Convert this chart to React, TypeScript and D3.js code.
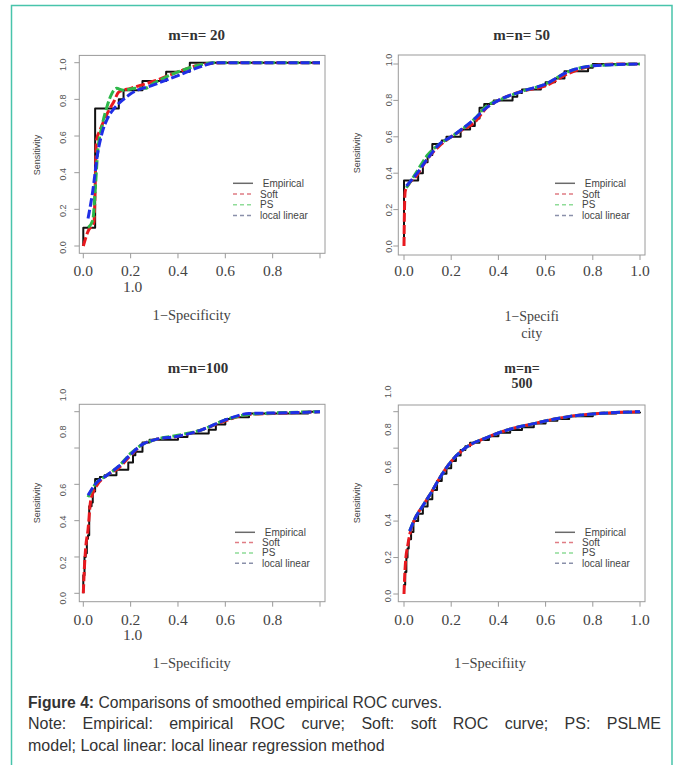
import React, { useRef, useEffect } from 'react';
import * as d3 from 'd3';

type Pt = [number, number];

// --- Data (fpr, tpr) ---
const emp20: Pt[] = [[0, 0], [0, 0.1], [0.05, 0.75], [0.15, 0.8], [0.17, 0.85], [0.25, 0.9], [0.35, 0.95], [0.45, 1], [1, 1]];
const soft20: Pt[] = [[0, 0], [0.02, 0.08], [0.045, 0.13], [0.056, 0.58], [0.07, 0.63], [0.1, 0.72], [0.13, 0.79], [0.15, 0.84], [0.2, 0.86], [0.3, 0.9], [0.4, 0.95], [0.5, 0.99], [0.6, 1], [1, 1]];
const ps20: Pt[] = [[0.02, 0.1], [0.04, 0.14], [0.05, 0.3], [0.06, 0.5], [0.08, 0.66], [0.1, 0.76], [0.12, 0.83], [0.14, 0.86], [0.17, 0.85], [0.22, 0.86], [0.26, 0.86], [0.3, 0.89], [0.4, 0.95], [0.5, 0.99], [0.55, 1], [1, 1]];
const ll20: Pt[] = [[0.02, 0.15], [0.04, 0.3], [0.06, 0.5], [0.08, 0.62], [0.1, 0.69], [0.13, 0.75], [0.17, 0.8], [0.2, 0.83], [0.3, 0.88], [0.4, 0.93], [0.5, 0.98], [0.56, 1], [1, 1]];

const emp50: Pt[] = [[0, 0], [0, 0.36], [0.06, 0.4], [0.08, 0.46], [0.1, 0.5], [0.12, 0.56], [0.16, 0.58], [0.18, 0.6], [0.24, 0.64], [0.28, 0.66], [0.3, 0.7], [0.32, 0.76], [0.34, 0.78], [0.38, 0.8], [0.46, 0.82], [0.48, 0.84], [0.5, 0.86], [0.58, 0.88], [0.6, 0.9], [0.64, 0.92], [0.68, 0.96], [0.78, 0.98], [0.8, 1], [1, 1]];
const soft50: Pt[] = [[0, 0], [0.002, 0.2], [0.005, 0.3], [0.02, 0.34], [0.05, 0.38], [0.1, 0.48], [0.15, 0.55], [0.2, 0.6], [0.25, 0.64], [0.3, 0.68], [0.35, 0.76], [0.4, 0.8], [0.5, 0.85], [0.6, 0.88], [0.7, 0.95], [0.8, 0.99], [0.9, 1], [1, 1]];
const ps50: Pt[] = [[0.01, 0.32], [0.05, 0.4], [0.1, 0.5], [0.15, 0.56], [0.2, 0.6], [0.3, 0.7], [0.35, 0.77], [0.4, 0.8], [0.5, 0.85], [0.6, 0.89], [0.7, 0.96], [0.8, 0.99], [1, 1]];
const ll50: Pt[] = [[0.01, 0.33], [0.05, 0.39], [0.1, 0.48], [0.15, 0.56], [0.2, 0.6], [0.3, 0.7], [0.35, 0.76], [0.4, 0.8], [0.5, 0.85], [0.6, 0.89], [0.7, 0.96], [0.8, 0.99], [1, 1]];

const emp100: Pt[] = [[0, 0], [0, 0.1], [0.005, 0.2], [0.01, 0.22], [0.015, 0.3], [0.02, 0.32], [0.025, 0.48], [0.035, 0.5], [0.04, 0.56], [0.05, 0.63], [0.07, 0.64], [0.09, 0.65], [0.14, 0.68], [0.19, 0.72], [0.21, 0.76], [0.22, 0.78], [0.25, 0.83], [0.28, 0.845], [0.4, 0.86], [0.44, 0.88], [0.53, 0.9], [0.56, 0.93], [0.6, 0.96], [0.63, 0.97], [0.7, 0.99], [0.95, 1], [1, 1]];
const soft100: Pt[] = [[0, 0], [0.005, 0.15], [0.01, 0.25], [0.02, 0.35], [0.03, 0.5], [0.04, 0.55], [0.06, 0.6], [0.1, 0.65], [0.15, 0.69], [0.2, 0.76], [0.25, 0.82], [0.3, 0.845], [0.4, 0.865], [0.5, 0.9], [0.6, 0.95], [0.7, 0.985], [0.8, 0.99], [0.9, 0.995], [1, 1]];
const ps100: Pt[] = [[0.02, 0.53], [0.05, 0.6], [0.1, 0.65], [0.15, 0.7], [0.2, 0.77], [0.25, 0.82], [0.3, 0.845], [0.4, 0.87], [0.5, 0.9], [0.6, 0.955], [0.7, 0.985], [1, 1]];
const ll100: Pt[] = [[0.02, 0.54], [0.05, 0.6], [0.1, 0.65], [0.15, 0.7], [0.2, 0.765], [0.25, 0.82], [0.3, 0.845], [0.4, 0.865], [0.5, 0.9], [0.6, 0.955], [0.7, 0.99], [0.9, 0.995], [1, 1]];

const emp500: Pt[] = [[0, 0], [0, 0.05], [0.005, 0.12], [0.01, 0.2], [0.015, 0.25], [0.02, 0.3], [0.03, 0.34], [0.04, 0.4], [0.06, 0.44], [0.08, 0.48], [0.1, 0.52], [0.12, 0.57], [0.14, 0.62], [0.16, 0.66], [0.18, 0.69], [0.2, 0.73], [0.22, 0.76], [0.24, 0.79], [0.26, 0.81], [0.28, 0.83], [0.32, 0.845], [0.36, 0.865], [0.4, 0.885], [0.45, 0.9], [0.5, 0.915], [0.55, 0.935], [0.6, 0.95], [0.65, 0.96], [0.7, 0.975], [0.8, 0.99], [0.9, 0.995], [1, 1]];
const soft500: Pt[] = [[0, 0], [0.003, 0.1], [0.008, 0.2], [0.015, 0.26], [0.025, 0.33], [0.047, 0.415], [0.078, 0.48], [0.117, 0.56], [0.146, 0.625], [0.2, 0.727], [0.27, 0.81], [0.343, 0.854], [0.414, 0.89], [0.555, 0.936], [0.696, 0.973], [0.837, 0.991], [1, 1]];
const ps500: Pt[] = [[0.024, 0.345], [0.047, 0.415], [0.078, 0.48], [0.117, 0.56], [0.146, 0.625], [0.2, 0.727], [0.27, 0.81], [0.343, 0.854], [0.414, 0.89], [0.555, 0.936], [0.696, 0.973], [0.837, 0.991], [1, 1]];
const ll500: Pt[] = [[0.024, 0.345], [0.047, 0.415], [0.078, 0.48], [0.117, 0.56], [0.146, 0.625], [0.2, 0.727], [0.27, 0.81], [0.343, 0.854], [0.414, 0.89], [0.555, 0.936], [0.696, 0.973], [0.837, 0.991], [1, 1]];

const seriesByPanel: Pt[][][] = [
  [emp20, soft20, ps20, ll20],
  [emp50, soft50, ps50, ll50],
  [emp100, soft100, ps100, ll100],
  [emp500, soft500, ps500, ll500],
];

const titles = [['m=n= 20'], ['m=n= 50'], ['m=n=100'], ['m=n=', '500']];
const xTitles = [['1\u2212Specificity'], ['1\u2212Specifi', 'city'], ['1\u2212Specificity'], ['1\u2212Specifiity']];
const yTitle = 'Sensitivity';
const tickValues = [0, 0.2, 0.4, 0.6, 0.8, 1.0];
const legendLabels = [' Empirical', 'Soft', 'PS', 'local linear'];
const captionBold = 'Figure 4:';
const captionRest = ' Comparisons of smoothed empirical ROC curves.';
const captionNote = 'Note: Empirical: empirical ROC curve; Soft: soft ROC curve; PS: PSLME';
const captionLast = 'model; Local linear: local linear regression method';

// --- Styles ---
const curveColors = ['#111111', '#e8191f', '#2db84a', '#1f2ee6'];
const legendColors = ['#6a6a6a', '#e07c84', '#8fdc98', '#8a90aa'];

// --- Layout of the four panels (pixels) ---
const LAYOUT = [
  { x0: 83.3, x1: 320, y0: 246, y1: 62.7, box: [79.3, 325, 55.4, 253.3], titleX: 196.7, titleY: [40], tickY: 276, wrapLast: true, xtX: 191.7, xtY: [320], ytX: 36.7, ytY: 155, ylX: 62.7, ylShift: [1.5, 1.5, 1.5, 1.5, 1.5, 2], legX: 233, legY: 183.3, legStep: 10.7 },
  { x0: 404, x1: 640, y0: 246, y1: 64, box: [398.3, 645, 55, 255], titleX: 521.7, titleY: [40], tickY: 276, wrapLast: false, xtX: 531.7, xtY: [321, 337.5], ytX: 356.7, ytY: 153, ylX: 389, ylShift: [0.5, 0.5, 0, 0, -0.5, -4], legX: 555, legY: 183.3, legStep: 10.7 },
  { x0: 83.3, x1: 320, y0: 593.3, y1: 411.7, box: [79.3, 325, 404.3, 601.7], titleX: 198, titleY: [373.3], tickY: 624.6, wrapLast: true, xtX: 191.7, xtY: [668], ytX: 36.7, ytY: 503, ylX: 62.7, ylShift: [5, 5.7, 1, 5.6, -16.3, -16.7], legX: 235, legY: 532.3, legStep: 10.3 },
  { x0: 404, x1: 640, y0: 594, y1: 411.7, box: [398.3, 645, 405, 601.7], titleX: 522, titleY: [372.5, 387.5], tickY: 624.6, wrapLast: false, xtX: 490, xtY: [668], ytX: 356.7, ytY: 503, ylX: 387.7, ylShift: [2, -0.2, -1, -17.6, -18.7, -20], legX: 555, legY: 532.3, legStep: 10.3 },
];

const W = 675;
const H = 765;

const App = () => {
  const svgRef = useRef<SVGSVGElement>(null);

  useEffect(() => {
    const svg = d3.select(svgRef.current).html('');

    svg.append('rect').attr('width', W).attr('height', H).attr('fill', '#ffffff');

    // Frame
    svg.append('path')
      .attr('d', 'M11.5,765 V5.5 H672 V765')
      .attr('fill', 'none')
      .attr('stroke', '#48c4ab')
      .attr('stroke-width', 1.5);

    LAYOUT.forEach((L, pi) => {
      const g = svg.append('g');
      const x = d3.scaleLinear().domain([0, 1]).range([L.x0, L.x1]);
      const y = d3.scaleLinear().domain([0, 1]).range([L.y0, L.y1]);
      const [bl, br, bt, bb] = L.box;

      // plot box
      g.append('rect')
        .attr('x', bl).attr('y', bt)
        .attr('width', br - bl).attr('height', bb - bt)
        .attr('fill', 'none').attr('stroke', '#9a9a9a').attr('stroke-width', 1);

      // y ticks + rotated labels
      tickValues.forEach((t, i) => {
        g.append('line')
          .attr('x1', bl).attr('x2', bl - 5)
          .attr('y1', y(t)).attr('y2', y(t))
          .attr('stroke', '#9a9a9a');
        const ly = y(t) + L.ylShift[i];
        g.append('text')
          .attr('transform', `translate(${L.ylX},${ly}) rotate(-90)`)
          .attr('text-anchor', 'middle')
          .attr('dominant-baseline', 'central')
          .attr('font-family', 'Liberation Sans, Arial, sans-serif')
          .attr('font-size', 9)
          .attr('fill', '#555')
          .text(d3.format('.1f')(t));
      });

      // x ticks + labels
      tickValues.forEach((t, i) => {
        g.append('line')
          .attr('x1', x(t)).attr('x2', x(t))
          .attr('y1', bb).attr('y2', bb + 5)
          .attr('stroke', '#9a9a9a');
        const last = i === tickValues.length - 1;
        const lx = last && L.wrapLast ? x(0.2) + 2 : x(t);
        const lyy = last && L.wrapLast ? L.tickY + 15.5 : L.tickY;
        g.append('text')
          .attr('x', lx).attr('y', lyy)
          .attr('text-anchor', 'middle')
          .attr('font-family', 'Liberation Serif, Times New Roman, serif')
          .attr('font-size', 15.5)
          .attr('fill', '#444')
          .text(d3.format('.1f')(t));
      });

      // title
      titles[pi].forEach((s, i) => {
        g.append('text')
          .attr('x', L.titleX).attr('y', L.titleY[i])
          .attr('text-anchor', 'middle')
          .attr('font-family', 'Liberation Serif, Times New Roman, serif')
          .attr('font-weight', 'bold')
          .attr('font-size', titles[pi].length > 1 ? 14 : 15)
          .attr('fill', '#333')
          .text(s);
      });

      // x title
      xTitles[pi].forEach((s, i) => {
        g.append('text')
          .attr('x', L.xtX).attr('y', L.xtY[i])
          .attr('text-anchor', 'middle')
          .attr('font-family', 'Liberation Serif, Times New Roman, serif')
          .attr('font-size', xTitles[pi].length > 1 ? 14 : 14.5)
          .attr('fill', '#444')
          .text(s);
      });

      // y title
      g.append('text')
        .attr('transform', `translate(${L.ytX},${L.ytY}) rotate(-90)`)
        .attr('text-anchor', 'middle')
        .attr('dominant-baseline', 'central')
        .attr('font-family', 'Liberation Sans, Arial, sans-serif')
        .attr('font-size', 9)
        .attr('fill', '#444')
        .text(yTitle);

      // curves
      const stepLine = d3.line<Pt>().x(d => x(d[0])).y(d => y(d[1])).curve(d3.curveStepAfter);
      const smoothLine = d3.line<Pt>().x(d => x(d[0])).y(d => y(d[1])).curve(d3.curveMonotoneX);
      seriesByPanel[pi].forEach((data, si) => {
        g.append('path')
          .attr('d', si === 0 ? stepLine(data) : smoothLine(data))
          .attr('fill', 'none')
          .attr('stroke', curveColors[si])
          .attr('stroke-width', si === 0 ? 2 : 3)
          .attr('stroke-dasharray', si === 0 ? null : '9,3')
          .attr('stroke-linejoin', 'round');
      });

      // legend
      legendLabels.forEach((lab, li) => {
        const cy = L.legY + li * L.legStep;
        g.append('line')
          .attr('x1', L.legX).attr('x2', L.legX + 20)
          .attr('y1', cy).attr('y2', cy)
          .attr('stroke', legendColors[li])
          .attr('stroke-width', 1.5)
          .attr('stroke-dasharray', li === 0 ? null : '4,3');
        g.append('text')
          .attr('x', L.legX + 27).attr('y', cy + 3.5)
          .attr('font-family', 'Liberation Sans, Arial, sans-serif')
          .attr('font-size', 10)
          .attr('fill', '#444')
          .style('white-space', 'pre')
          .text(lab);
      });
    });

    // Caption
    const cap = svg.append('g')
      .attr('font-family', 'Liberation Sans, Arial, sans-serif')
      .attr('font-size', 16)
      .attr('fill', '#333');
    const t1 = cap.append('text').attr('x', 28).attr('y', 708).style('white-space', 'pre')
      .attr('textLength', 414).attr('lengthAdjust', 'spacingAndGlyphs');
    t1.append('tspan').attr('font-weight', 'bold').text(captionBold);
    t1.append('tspan').text(captionRest);

    const t2 = cap.append('text').attr('x', 28).attr('y', 729).text(captionNote);
    const node = t2.node() as SVGTextElement;
    const natural = node.getComputedTextLength();
    const spaces = captionNote.split(' ').length - 1;
    t2.attr('word-spacing', Math.max(0, (633 - natural) / spaces));

    cap.append('text').attr('x', 28).attr('y', 751).text(captionLast);
  }, []);

  return (
    <svg
      ref={svgRef}
      width={W}
      height={H}
      style={{ position: 'absolute', left: 0, top: 0, background: '#fff' }}
    />
  );
};

export default App;
